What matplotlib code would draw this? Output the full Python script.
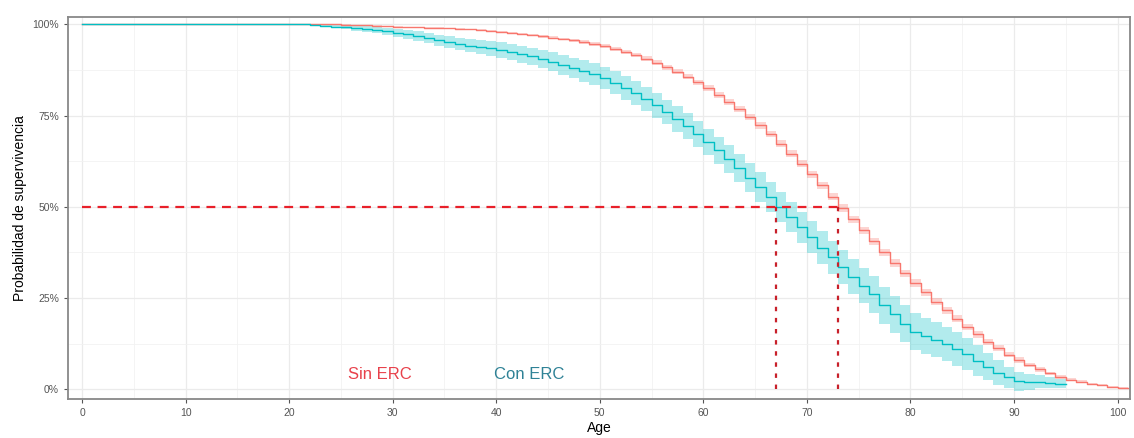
import matplotlib.pyplot as plt
from matplotlib.ticker import MultipleLocator, PercentFormatter

plt.rcParams["font.family"] = ["Liberation Sans", "DejaVu Sans"]

# Kaplan-Meier estimates (one step per year of age)
ages_sin = list(range(0, 102))
surv_sin = [100] * 25 + [
    99.9, 99.8, 99.7, 99.6, 99.5, 99.4, 99.3, 99.2, 99.1, 99.0,
    98.9, 98.8, 98.6, 98.4, 98.2, 98.0, 97.7, 97.4, 97.1, 96.8,
    96.4, 96.0, 95.6, 95.1, 94.6, 94.0, 93.3, 92.5, 91.6, 90.6,
    89.5, 88.3, 87.0, 85.6, 84.1, 82.5, 80.7, 78.8, 76.8, 74.6,
    72.3, 69.9, 67.3, 64.6, 61.8, 58.9, 55.9, 52.8, 49.7, 46.6,
    43.5, 40.5, 37.5, 34.6, 31.8, 29.1, 26.5, 24.0, 21.6, 19.3,
    17.1, 15.0, 13.0, 11.2, 9.5, 8.0, 6.6, 5.4, 4.3, 3.4,
    2.6, 2.0, 1.5, 1.1, 0.7, 0.4, 0.2,
]
ci_sin = [0.0] * 25 + [
    0.1, 0.1, 0.1, 0.1, 0.1, 0.1, 0.1, 0.2, 0.2, 0.2,
    0.2, 0.2, 0.2, 0.3, 0.3, 0.3, 0.3, 0.3, 0.3, 0.4,
    0.4, 0.4, 0.4, 0.5, 0.5, 0.5, 0.5, 0.6, 0.6, 0.6,
    0.6, 0.7, 0.7, 0.7, 0.7, 0.8, 0.8, 0.8, 0.8, 0.9,
    0.9, 0.9, 0.9, 1.0, 1.0, 1.0, 1.0, 1.0, 1.0, 1.0,
    1.0, 1.0, 1.0, 1.0, 1.0, 1.0, 1.0, 1.0, 1.0, 0.9,
    0.9, 0.9, 0.8, 0.8, 0.7, 0.7, 0.6, 0.6, 0.5, 0.5,
    0.4, 0.4, 0.3, 0.3, 0.2, 0.2, 0.1,
]

ages_con = list(range(0, 96))
surv_con = [100] * 22 + [
    99.8, 99.6, 99.4, 99.2, 99.0, 98.7, 98.4, 98.1, 97.7, 97.3,
    96.8, 96.3, 95.7, 95.1, 94.6, 94.2, 93.8, 93.4, 93.0, 92.4,
    91.8, 91.2, 90.5, 89.7, 88.9, 88.1, 87.2, 86.3, 85.3, 84.0,
    82.6, 81.1, 79.5, 77.8, 76.0, 74.1, 72.1, 70.0, 67.8, 65.5,
    63.1, 60.6, 58.0, 55.4, 52.7, 50.0, 47.2, 44.4, 41.6, 38.8,
    36.1, 33.4, 30.8, 28.4, 26.0, 23.0, 20.5, 18.0, 15.8, 14.6,
    13.5, 12.4, 11.0, 9.6, 7.8, 6.2, 4.5, 3.2, 2.2, 2.0,
    2.0, 1.8, 1.5, 1.5,
]
ci_con = [0.0] * 22 + [
    0.3, 0.4, 0.5, 0.6, 0.7, 0.8, 0.9, 1.0, 1.1, 1.2,
    1.3, 1.4, 1.5, 1.6, 1.7, 1.8, 1.9, 2.0, 2.1, 2.2,
    2.3, 2.4, 2.5, 2.6, 2.7, 2.8, 2.9, 3.0, 3.0, 3.1,
    3.2, 3.3, 3.3, 3.4, 3.4, 3.5, 3.5, 3.6, 3.6, 3.7,
    3.8, 3.8, 3.9, 4.0, 4.0, 4.1, 4.2, 4.3, 4.4, 4.5,
    4.6, 4.7, 4.8, 4.9, 5.0, 5.0, 5.0, 5.0, 5.0, 4.9,
    4.8, 4.7, 4.6, 4.4, 4.2, 3.8, 3.4, 3.0, 2.6, 2.2,
    1.8, 1.5, 1.2, 1.0,
]

median_sin = 73
median_con = 67

fig = plt.figure(figsize=(11.34, 4.38), dpi=100)
ax = fig.add_axes([0.06, 0.089, 0.9365, 0.872])

col_sin = "#F8766D"
col_con = "#00BFC4"

for ages, surv, ci, col in [
    (ages_sin, surv_sin, ci_sin, col_sin),
    (ages_con, surv_con, ci_con, col_con),
]:
    s = [v / 100 for v in surv]
    lo = [(v - c) / 100 for v, c in zip(surv, ci)]
    hi = [min(v + c, 100) / 100 for v, c in zip(surv, ci)]
    ax.fill_between(ages, lo, hi, step="post", color=col, alpha=0.3, lw=0)
    ax.step(ages, s, where="post", color=col, lw=1.0)

# median lines
ax.plot([0, median_sin], [0.5, 0.5], color="#E8202A", lw=1.6, ls=(0, (4, 3)))
ax.plot([median_con, median_con], [0, 0.5], color="#C8202A", lw=1.6, ls=(0, (2, 3)))
ax.plot([median_sin, median_sin], [0, 0.5], color="#C8202A", lw=1.6, ls=(0, (2, 3)))

ax.text(28.8, 0.04, "Sin ERC", color="#E8414B", fontsize=12, ha="center", va="center")
ax.text(43.2, 0.04, "Con ERC", color="#2F8296", fontsize=12, ha="center", va="center")

ax.set_xlim(-1.35, 101.2)
ax.set_ylim(-0.027, 1.02)
ax.xaxis.set_major_locator(MultipleLocator(10))
ax.xaxis.set_minor_locator(MultipleLocator(5))
ax.yaxis.set_major_locator(MultipleLocator(0.25))
ax.yaxis.set_minor_locator(MultipleLocator(0.125))
ax.yaxis.set_major_formatter(PercentFormatter(1.0, decimals=0))
ax.grid(which="major", color="#EBEBEB", lw=0.9)
ax.grid(which="minor", color="#F2F2F2", lw=0.6)
ax.set_axisbelow(True)
ax.tick_params(which="major", length=3, color="#555555", labelsize=7.5, labelcolor="#555555")
ax.tick_params(which="minor", length=0)
for sp in ax.spines.values():
    sp.set_color("#888888")
    sp.set_linewidth(1.3)

ax.set_xlabel("Age", fontsize=10, labelpad=2)
ax.set_ylabel("Probabilidad de supervivencia", fontsize=10, labelpad=4)

fig.savefig("out.png", dpi=100)
